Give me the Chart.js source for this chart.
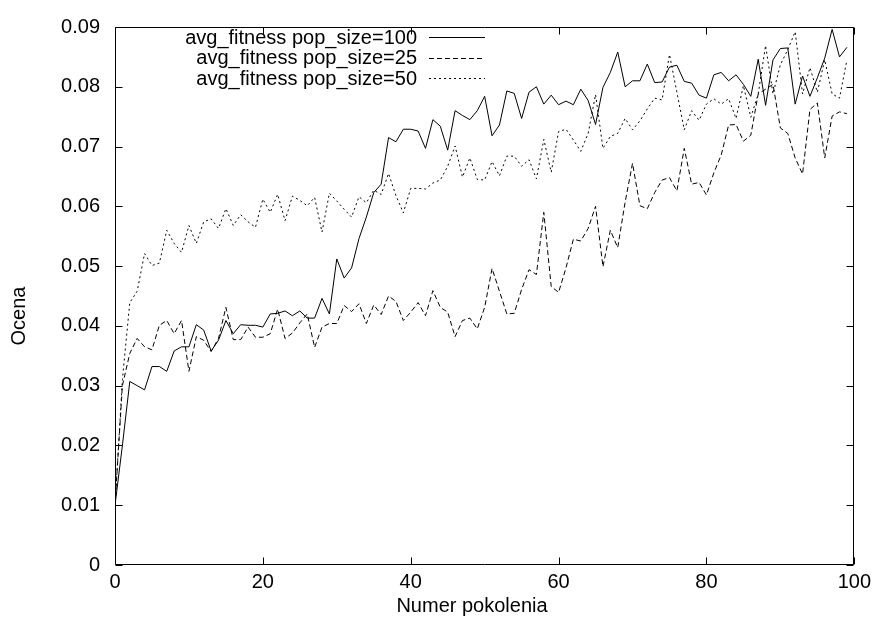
<!DOCTYPE html>
<html>
<head>
<meta charset="utf-8">
<script src="https://cdn.jsdelivr.net/npm/chart.js@4"></script>
<style>
html,body{margin:0;padding:0;background:#fff;}
#wrap{width:876px;height:626px;}
</style>
</head>
<body>
<div id="wrap"><canvas id="c" width="876" height="626"></canvas></div>
<script>
const generations = [0,1,2,3,4,5,6,7,8,9,10,11,12,13,14,15,16,17,18,19,20,21,22,23,24,25,26,27,28,29,30,31,32,33,34,35,36,37,38,39,40,41,42,43,44,45,46,47,48,49,50,51,52,53,54,55,56,57,58,59,60,61,62,63,64,65,66,67,68,69,70,71,72,73,74,75,76,77,78,79,80,81,82,83,84,85,86,87,88,89,90,91,92,93,94,95,96,97,98,99];

const fitness100 = [0.0100,0.0200,0.0307,0.0300,0.0293,0.0332,0.0332,0.0324,0.0358,0.0365,
0.0365,0.0402,0.0393,0.0358,0.0376,0.0409,0.0387,0.0402,0.0401,0.0401,
0.0398,0.0420,0.0421,0.0425,0.0417,0.0425,0.0413,0.0413,0.0446,0.0420,
0.0512,0.0480,0.0497,0.0546,0.0582,0.0623,0.0637,0.0715,0.0708,0.0729,
0.0729,0.0726,0.0697,0.0745,0.0734,0.0694,0.0760,0.0752,0.0745,0.0760,
0.0784,0.0718,0.0736,0.0793,0.0789,0.0747,0.0791,0.0800,0.0771,0.0786,
0.0770,0.0776,0.0770,0.0796,0.0777,0.0737,0.0799,0.0824,0.0858,0.0800,
0.0810,0.0810,0.0838,0.0807,0.0808,0.0833,0.0836,0.0809,0.0806,0.0786,
0.0781,0.0820,0.0824,0.0810,0.0820,0.0804,0.0784,0.0846,0.0769,0.0845,
0.0864,0.0865,0.0771,0.0818,0.0784,0.0815,0.0848,0.0896,0.0850,0.0866];

const fitness25 = [0.0100,0.0300,0.0354,0.0379,0.0365,0.0360,0.0401,0.0409,0.0387,0.0409,
0.0324,0.0382,0.0376,0.0357,0.0379,0.0431,0.0377,0.0377,0.0398,0.0381,
0.0381,0.0387,0.0428,0.0379,0.0388,0.0405,0.0420,0.0364,0.0398,0.0404,
0.0404,0.0434,0.0424,0.0437,0.0404,0.0435,0.0419,0.0450,0.0441,0.0409,
0.0423,0.0439,0.0417,0.0459,0.0431,0.0423,0.0382,0.0409,0.0413,0.0395,
0.0431,0.0496,0.0458,0.0420,0.0421,0.0461,0.0494,0.0486,0.0590,0.0466,
0.0456,0.0497,0.0545,0.0542,0.0563,0.0600,0.0499,0.0560,0.0531,0.0607,
0.0672,0.0601,0.0596,0.0623,0.0644,0.0648,0.0626,0.0697,0.0637,0.0640,
0.0619,0.0656,0.0686,0.0736,0.0737,0.0709,0.0719,0.0788,0.0796,0.0804,
0.0731,0.0722,0.0681,0.0654,0.0762,0.0773,0.0681,0.0751,0.0758,0.0755];

const fitness50 = [0.0100,0.0310,0.0439,0.0458,0.0521,0.0501,0.0505,0.0560,0.0538,0.0523,
0.0568,0.0538,0.0574,0.0579,0.0563,0.0596,0.0568,0.0586,0.0574,0.0565,
0.0612,0.0590,0.0620,0.0576,0.0617,0.0610,0.0601,0.0615,0.0557,0.0622,
0.0609,0.0595,0.0582,0.0616,0.0606,0.0627,0.0620,0.0655,0.0618,0.0589,
0.0630,0.0630,0.0629,0.0639,0.0644,0.0667,0.0701,0.0649,0.0681,0.0645,
0.0644,0.0675,0.0651,0.0684,0.0684,0.0667,0.0678,0.0646,0.0712,0.0657,
0.0725,0.0729,0.0711,0.0692,0.0722,0.0787,0.0697,0.0717,0.0722,0.0747,
0.0728,0.0743,0.0763,0.0781,0.0778,0.0854,0.0791,0.0728,0.0760,0.0744,
0.0771,0.0780,0.0771,0.0780,0.0747,0.0802,0.0749,0.0788,0.0869,0.0788,
0.0837,0.0862,0.0892,0.0788,0.0832,0.0791,0.0845,0.0788,0.0781,0.0845];

const seriesLabels = ['avg_fitness pop_size=100','avg_fitness pop_size=25','avg_fitness pop_size=50'];
const xTickValues = [0,20,40,60,80,100];
const xTickLabels = ['0','20','40','60','80','100'];
const yTickValues = [0,0.01,0.02,0.03,0.04,0.05,0.06,0.07,0.08,0.09];
const yTickLabels = ['0','0.01','0.02','0.03','0.04','0.05','0.06','0.07','0.08','0.09'];
const xAxisTitle = 'Numer pokolenia';
const yAxisTitle = 'Ocena';

const FONT = {family:'"Liberation Sans", Arial, Helvetica, sans-serif', size:20};

function toPoints(vals){ return generations.map((g,i)=>({x:g,y:vals[i]})); }

const framePlugin = {
  id:'frame',
  afterDatasetsDraw(chart){
    const {ctx, chartArea:a, scales} = chart;
    const L=Math.round(a.left)+0.5, R=Math.round(a.right)-0.5, T=Math.round(a.top)+0.5, B=Math.round(a.bottom)-0.5;
    ctx.save();
    ctx.strokeStyle='#000';
    ctx.lineWidth=1;
    ctx.setLineDash([]);
    ctx.beginPath();
    ctx.rect(L,T,R-L,B-T);
    const tl=7;
    xTickValues.forEach(v=>{
      const p=Math.round(scales.x.getPixelForValue(v))+0.5;
      ctx.moveTo(p,B); ctx.lineTo(p,B-tl);
      ctx.moveTo(p,T); ctx.lineTo(p,T+tl);
    });
    yTickValues.forEach(v=>{
      const p=Math.round(scales.y.getPixelForValue(v))+0.5;
      ctx.moveTo(L,p); ctx.lineTo(L+tl,p);
      ctx.moveTo(R,p); ctx.lineTo(R-tl,p);
    });
    ctx.stroke();

    ctx.font = FONT.size+'px '+FONT.family;
    ctx.fillStyle='#000';
    ctx.textBaseline='middle';

    // legend (gnuplot style: text right-aligned, sample to the right)
    const rows=[37,57.5,78];
    ctx.textAlign='right';
    chart.data.datasets.forEach((ds,i)=>{
      const y=rows[i];
      ctx.fillText(ds.label, 417, y+1);
      ctx.beginPath();
      ctx.setLineDash(ds.borderDash||[]);
      ctx.moveTo(429,Math.round(y)+0.5);
      ctx.lineTo(485,Math.round(y)+0.5);
      ctx.stroke();
    });

    // axis titles
    ctx.setLineDash([]);
    ctx.textAlign='center';
    ctx.fillText(xAxisTitle, 472, 606);
    ctx.save();
    ctx.translate(19, 316);
    ctx.rotate(-Math.PI/2);
    ctx.fillText(yAxisTitle, 0, 0);
    ctx.restore();
    ctx.restore();
  }
};

new Chart(document.getElementById('c'), {
  type:'line',
  data:{
    datasets:[
      {label:seriesLabels[0], data:toPoints(fitness100), borderColor:'#000', borderWidth:1, borderDash:[], pointRadius:0, tension:0, fill:false},
      {label:seriesLabels[1], data:toPoints(fitness25), borderColor:'#000', borderWidth:1, borderDash:[5,3], pointRadius:0, tension:0, fill:false},
      {label:seriesLabels[2], data:toPoints(fitness50), borderColor:'#000', borderWidth:1, borderDash:[2,3], pointRadius:0, tension:0, fill:false}
    ]
  },
  options:{
    responsive:false,
    animation:false,
    devicePixelRatio:1,
    layout:{padding:{top:20,right:21,left:0,bottom:0}},
    plugins:{legend:{display:false}, tooltip:{enabled:false}},
    scales:{
      x:{
        type:'linear', min:0, max:100,
        afterBuildTicks:(s)=>{ s.ticks = xTickValues.map(v=>({value:v})); },
        afterFit:(s)=>{ s.height = 61; },
        ticks:{font:FONT, color:'#000', padding:5, maxRotation:0, autoSkip:false,
          callback:(v)=>{ const i=xTickValues.indexOf(v); return i>=0?xTickLabels[i]:''; }},
        grid:{display:false, drawTicks:false},
        border:{display:false},
        title:{display:false}
      },
      y:{
        type:'linear', min:0, max:0.09,
        afterBuildTicks:(s)=>{ s.ticks = yTickValues.map(v=>({value:v})); },
        afterFit:(s)=>{ s.width = 115; },
        ticks:{font:FONT, color:'#000', padding:15, autoSkip:false,
          callback:(v,i)=>yTickLabels[i]},
        grid:{display:false, drawTicks:false},
        border:{display:false},
        title:{display:false}
      }
    }
  },
  plugins:[framePlugin]
});
</script>
</body>
</html>
